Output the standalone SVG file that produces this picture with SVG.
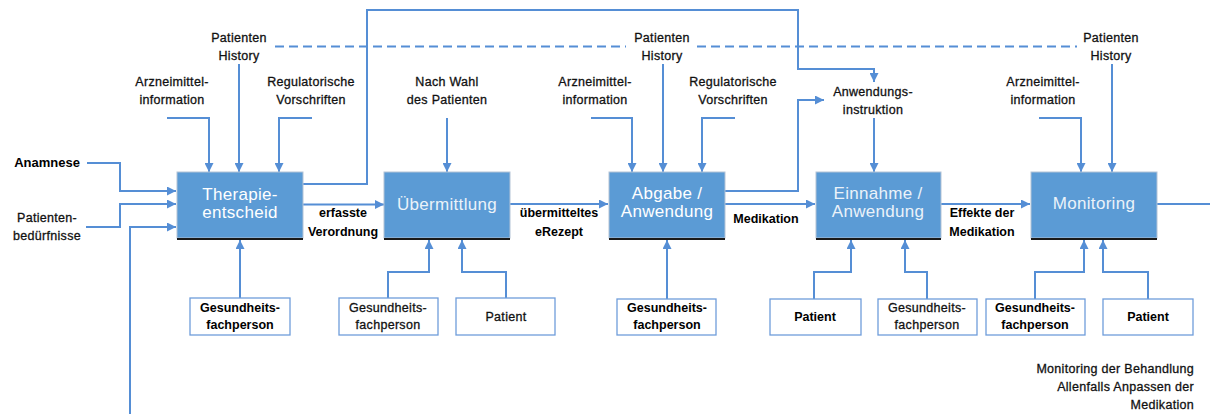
<svg xmlns="http://www.w3.org/2000/svg" width="1210" height="414" viewBox="0 0 1210 414">
<style>
.c{fill:none;stroke:#558ed5;stroke-width:2}
.d{fill:none;stroke:#558ed5;stroke-width:2;stroke-dasharray:9 5}
.box{fill:#5b9bd5;stroke:#b4c3d6;stroke-width:1}
.sh{stroke:#1a1a1a;stroke-width:2.2}
.bt{font-family:"Liberation Sans",Arial,sans-serif;font-size:17px;letter-spacing:0.3px;fill:#ffffff;text-anchor:middle}
.lt{opacity:0.88}
.t{font-family:"Liberation Sans",Arial,sans-serif;font-size:12.5px;letter-spacing:0.3px;fill:#111;stroke:#111;stroke-width:0.3;text-anchor:middle}
.b{font-family:"Liberation Sans",Arial,sans-serif;font-size:12.5px;font-weight:bold;fill:#000;text-anchor:middle}
.sb{fill:#fff;stroke:#6f9ddb;stroke-width:1.3}
.r{text-anchor:end}
</style>
<defs>
<marker id="ah" viewBox="0 0 10 10" refX="10" refY="5" markerWidth="10" markerHeight="9" markerUnits="userSpaceOnUse" orient="auto">
<path d="M0,0 L10,5 L0,10 z" fill="#558ed5"/>
</marker>
</defs>

<g id="connectors">
<path class="c" d="M87,163 H120 V191 H176" marker-end="url(#ah)"/>
<path class="c" d="M86,227 H120 V204 H176" marker-end="url(#ah)"/>
<path class="c" d="M130,414 V227 H176" marker-end="url(#ah)"/>
<path class="c" d="M167,118 H209 V172" marker-end="url(#ah)"/>
<path class="c" d="M239,64 V172" marker-end="url(#ah)"/>
<path class="c" d="M312,118 H279 V172" marker-end="url(#ah)"/>
<path class="c" d="M303,184 H367 V10 H798 V69 H874 V82" marker-end="url(#ah)"/>
<path class="c" d="M303,204.5 H384" marker-end="url(#ah)"/>
<path class="c" d="M240,298 V240" marker-end="url(#ah)"/>
<path class="c" d="M447,118 V172" marker-end="url(#ah)"/>
<path class="c" d="M510,204 H608" marker-end="url(#ah)"/>
<path class="c" d="M388,298 V272 H429 V240" marker-end="url(#ah)"/>
<path class="c" d="M506,298 V272 H462 V240" marker-end="url(#ah)"/>
<path class="c" d="M591,118 H632 V172" marker-end="url(#ah)"/>
<path class="c" d="M663,64 V172" marker-end="url(#ah)"/>
<path class="c" d="M735,118 H702 V172" marker-end="url(#ah)"/>
<path class="c" d="M667,299 V240" marker-end="url(#ah)"/>
<path class="c" d="M725,204 H815" marker-end="url(#ah)"/>
<path class="c" d="M725,191 H798 V100 H824" marker-end="url(#ah)"/>
<path class="c" d="M874,118 V172" marker-end="url(#ah)"/>
<path class="c" d="M814,299 V272 H851 V240" marker-end="url(#ah)"/>
<path class="c" d="M927,299 V272 H905 V240" marker-end="url(#ah)"/>
<path class="c" d="M941,204 H1030" marker-end="url(#ah)"/>
<path class="c" d="M1039,118 H1081 V172" marker-end="url(#ah)"/>
<path class="c" d="M1112,64 V172" marker-end="url(#ah)"/>
<path class="c" d="M1035,299 V272 H1084 V240" marker-end="url(#ah)"/>
<path class="c" d="M1148,299 V272 H1103 V240" marker-end="url(#ah)"/>
<path class="c" d="M1157,204 H1210"/>
<path class="d" d="M275,46.5 H626"/>
<path class="d" d="M697,46.5 H1077"/>
</g>

<g id="therapieentscheid">
<rect class="box" x="177" y="172" width="126" height="66"/>
<line class="sh" x1="177" y1="239" x2="303" y2="239"/>
<text class="bt" x="240" y="200">Therapie-</text>
<text class="bt" x="240" y="218">entscheid</text>
</g>
<g id="uebermittlung">
<rect class="box" x="384" y="172" width="126" height="66"/>
<line class="sh" x1="384" y1="239" x2="510" y2="239"/>
<text class="bt lt" x="447" y="210">Übermittlung</text>
</g>
<g id="abgabe">
<rect class="box" x="609" y="172" width="116" height="66"/>
<line class="sh" x1="609" y1="239" x2="725" y2="239"/>
<text class="bt" x="667" y="199">Abgabe /</text>
<text class="bt" x="667" y="217">Anwendung</text>
</g>
<g id="einnahme">
<rect class="box" x="816" y="172" width="125" height="66"/>
<line class="sh" x1="816" y1="239" x2="941" y2="239"/>
<text class="bt lt" x="878" y="199">Einnahme /</text>
<text class="bt lt" x="878" y="217">Anwendung</text>
</g>
<g id="monitoring">
<rect class="box" x="1031" y="172" width="126" height="66"/>
<line class="sh" x1="1031" y1="239" x2="1157" y2="239"/>
<text class="bt lt" x="1094" y="209">Monitoring</text>
</g>

<g id="inputs-left">
<text class="b" x="47" y="167" style="font-size:13px">Anamnese</text>
<text class="t" x="47" y="222">Patienten-</text>
<text class="t" x="47" y="240">bedürfnisse</text>
</g>
<g id="controls-therapie">
<text class="t" x="239" y="42">Patienten</text>
<text class="t" x="239" y="60">History</text>
<text class="t" x="172" y="86">Arzneimittel-</text>
<text class="t" x="172" y="104">information</text>
<text class="t" x="311" y="86">Regulatorische</text>
<text class="t" x="311" y="104">Vorschriften</text>
</g>
<g id="controls-uebermittlung">
<text class="t" x="447" y="86">Nach Wahl</text>
<text class="t" x="447" y="104">des Patienten</text>
</g>
<g id="controls-abgabe">
<text class="t" x="662" y="42">Patienten</text>
<text class="t" x="662" y="60">History</text>
<text class="t" x="595" y="86">Arzneimittel-</text>
<text class="t" x="595" y="104">information</text>
<text class="t" x="733" y="86">Regulatorische</text>
<text class="t" x="733" y="104">Vorschriften</text>
</g>
<g id="controls-einnahme">
<text class="t" x="873" y="96">Anwendungs-</text>
<text class="t" x="873" y="114">instruktion</text>
</g>
<g id="controls-monitoring">
<text class="t" x="1111" y="42">Patienten</text>
<text class="t" x="1111" y="60">History</text>
<text class="t" x="1043" y="86">Arzneimittel-</text>
<text class="t" x="1043" y="104">information</text>
</g>

<g id="flow-labels">
<text class="b" x="343" y="217">erfasste</text>
<text class="b" x="343" y="236">Verordnung</text>
<text class="b" x="559" y="217">übermitteltes</text>
<text class="b" x="559" y="236">eRezept</text>
<text class="b" x="766" y="223">Medikation</text>
<text class="b" x="982" y="217">Effekte der</text>
<text class="b" x="982" y="236">Medikation</text>
</g>

<g id="mech-1">
<rect class="sb" x="190" y="298" width="100" height="37"/>
<text class="b" x="240" y="312">Gesundheits-</text>
<text class="b" x="240" y="329">fachperson</text>
</g>
<g id="mech-2">
<rect class="sb" x="339" y="298" width="99" height="37"/>
<text class="t" x="388" y="312">Gesundheits-</text>
<text class="t" x="388" y="329">fachperson</text>
</g>
<g id="mech-3">
<rect class="sb" x="456" y="298" width="99" height="37"/>
<text class="t" x="506" y="321">Patient</text>
</g>
<g id="mech-4">
<rect class="sb" x="617" y="299" width="99" height="36"/>
<text class="b" x="667" y="312">Gesundheits-</text>
<text class="b" x="667" y="329">fachperson</text>
</g>
<g id="mech-5">
<rect class="sb" x="770" y="299" width="91" height="36"/>
<text class="b" x="815" y="321">Patient</text>
</g>
<g id="mech-6">
<rect class="sb" x="878" y="299" width="99" height="36"/>
<text class="t" x="927" y="312">Gesundheits-</text>
<text class="t" x="927" y="329">fachperson</text>
</g>
<g id="mech-7">
<rect class="sb" x="986" y="299" width="99" height="36"/>
<text class="b" x="1035" y="312">Gesundheits-</text>
<text class="b" x="1035" y="329">fachperson</text>
</g>
<g id="mech-8">
<rect class="sb" x="1103" y="299" width="90" height="36"/>
<text class="b" x="1148" y="321">Patient</text>
</g>

<g id="note">
<text class="t r" x="1194" y="373">Monitoring der Behandlung</text>
<text class="t r" x="1194" y="391">Allenfalls Anpassen der</text>
<text class="t r" x="1194" y="409">Medikation</text>
</g>
</svg>
